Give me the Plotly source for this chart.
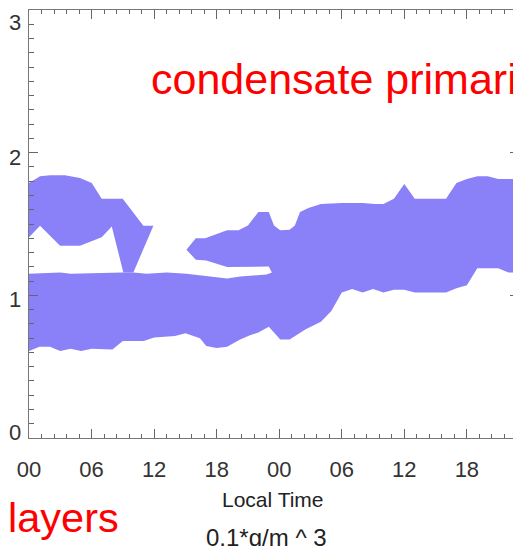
import plotly.graph_objects as go

# ---- cloud condensate 0.1 g/m^3 contour, height (km) vs local time (h) ----

# lower boundary of the main cloud band (left to right)
base_hour = [0, 1, 2, 3, 4, 5, 6, 8, 9, 11, 12, 14, 15, 16.4, 17, 18, 19, 20.25, 21.2,
             22, 23, 24.1, 25, 26.5, 28, 29, 30, 31, 32, 33, 34, 35, 36, 37, 40, 41,
             42, 43, 45, 46, 47]
base_height = [0.61, 0.64, 0.64, 0.61, 0.625, 0.61, 0.625, 0.62, 0.68, 0.68, 0.705,
               0.715, 0.735, 0.70, 0.645, 0.63, 0.64, 0.69, 0.72, 0.74, 0.78, 0.69,
               0.69, 0.76, 0.815, 0.89, 1.02, 1.045, 1.02, 1.045, 1.02, 1.04, 1.04,
               1.02, 1.02, 1.05, 1.07, 1.19, 1.19, 1.16, 1.16]

# upper boundary of the second-day cloud layer (left to right)
top_hour = [15.1, 16, 16.9, 19, 20.1, 21, 22, 23, 23.5, 24.1, 25, 25.5, 26, 26.8, 28,
            30, 32, 33.2, 34, 35, 36, 37, 40, 41, 42, 43, 44, 45, 47]
top_height = [1.32, 1.40, 1.40, 1.456, 1.456, 1.49, 1.584, 1.584, 1.49, 1.456, 1.46,
              1.49, 1.584, 1.612, 1.64, 1.647, 1.647, 1.64, 1.64, 1.677, 1.78, 1.677,
              1.677, 1.787, 1.815, 1.834, 1.834, 1.815, 1.815]

# underside of the upper layer before it merges with the band (left to right)
gap_hour = [15.1, 16, 17, 19, 22.2, 23, 23.3]
gap_height = [1.32, 1.25, 1.244, 1.198, 1.198, 1.202, 1.16]

# top of the lower band under the gap (left to right)
band_top_hour = [0, 3, 4, 9, 10, 11.3, 13.2, 15.1, 17, 19, 20.25, 21.2, 22.8]
band_top_height = [1.151, 1.16, 1.151, 1.16, 1.16, 1.151, 1.16, 1.151, 1.137, 1.118,
                   1.132, 1.137, 1.146]

# first-day upper layer (closed outline)
layer1_hour = [0, 1.06, 2.02, 3.45, 4.89, 6.02, 6.97, 8.99, 10.97, 11.93, 10.01, 9.05,
               7.94, 6.97, 4.89, 2.98, 1.06, 0]
layer1_height = [1.787, 1.834, 1.841, 1.841, 1.822, 1.787, 1.677, 1.677, 1.488, 1.488,
                 1.16, 1.16, 1.483, 1.408, 1.347, 1.347, 1.488, 1.408]

tick_hours = [0, 6, 12, 18, 24, 30, 36, 42]
tick_text = ["00", "06", "12", "18", "00", "06", "12", "18"]
height_ticks = [0, 1, 2, 3]

FILL = "#8a80f8"
FONT = "Liberation Sans, Arial, Helvetica, sans-serif"

# outline of the main band + second-day layer as one polygon
band_x = (base_hour + top_hour[::-1] + gap_hour[1:] + band_top_hour[::-1])
band_y = (base_height + top_height[::-1] + gap_height[1:] + band_top_height[::-1])

fig = go.Figure()
fig.add_trace(go.Scatter(x=band_x, y=band_y, fill="toself", fillcolor=FILL,
                         mode="lines", line=dict(width=0, color=FILL),
                         hoverinfo="skip", showlegend=False))
fig.add_trace(go.Scatter(x=layer1_hour, y=layer1_height, fill="toself", fillcolor=FILL,
                         mode="lines", line=dict(width=0, color=FILL),
                         hoverinfo="skip", showlegend=False))

W, H = 560, 546
L, R, T, B = 29, W - 519, 10, 108
pw, ph = W - L - R, H - T - B


def px(x):
    return (x - L) / pw


def py(y):
    return (H - B - y) / ph


axis_common = dict(showline=True, linecolor="#777", linewidth=1, mirror="ticks",
                   ticks="inside", tickcolor="#666", ticklen=9, tickwidth=1,
                   showgrid=False, zeroline=False, automargin=False,
                   tickfont=dict(family=FONT, size=22, color="#333"))

fig.update_xaxes(range=[0, 47], tickvals=tick_hours, ticktext=tick_text,
                 ticklabelstandoff=12,
                 minor=dict(dtick=1.2, tick0=0, ticks="inside", ticklen=4,
                            tickcolor="#666", showgrid=False),
                 **axis_common)
# height labels are kept inside the frame (end labels nudged inward)
fig.update_yaxes(range=[0, 3], tickvals=height_ticks, showticklabels=False,
                 minor=dict(dtick=0.1, tick0=0, ticks="inside", ticklen=4.5,
                            tickcolor="#666", showgrid=False),
                 **axis_common)

label_nudge = {0: 6, 1: -4, 2: -5, 3: -12}
annotations = [
    dict(text=str(v), x=px(23), y=v, xref="paper", yref="y", xanchor="right",
         yanchor="middle", yshift=label_nudge[v], showarrow=False,
         font=dict(family=FONT, size=22, color="#333"))
    for v in height_ticks
]

notes = [
    dict(text="condensate primarily", x=px(149), y=py(79), xanchor="left",
         yanchor="middle", font=dict(family=FONT, size=43, color="#ff0000")),
    dict(text="layers", x=px(6), y=py(517), xanchor="left", yanchor="middle",
         font=dict(family=FONT, size=41.5, color="#ff0000")),
    dict(text="Local Time", x=px(273), y=py(499), xanchor="center", yanchor="middle",
         font=dict(family=FONT, size=21, color="#222")),
    dict(text="0.1*g/m ^ 3", x=px(266), y=py(537), xanchor="center", yanchor="middle",
         font=dict(family=FONT, size=24, color="#222")),
]
for a in notes:
    a.update(xref="paper", yref="paper", showarrow=False)
annotations += notes

fig.update_layout(width=W, height=H, margin=dict(l=L, r=R, t=T, b=B, autoexpand=False),
                  paper_bgcolor="white", plot_bgcolor="white",
                  annotations=annotations, showlegend=False)

fig.write_html("out.html",
               post_script="document.body.style.margin='0';"
                           "document.body.style.overflow='hidden';"
                           "document.documentElement.style.overflow='hidden';")
